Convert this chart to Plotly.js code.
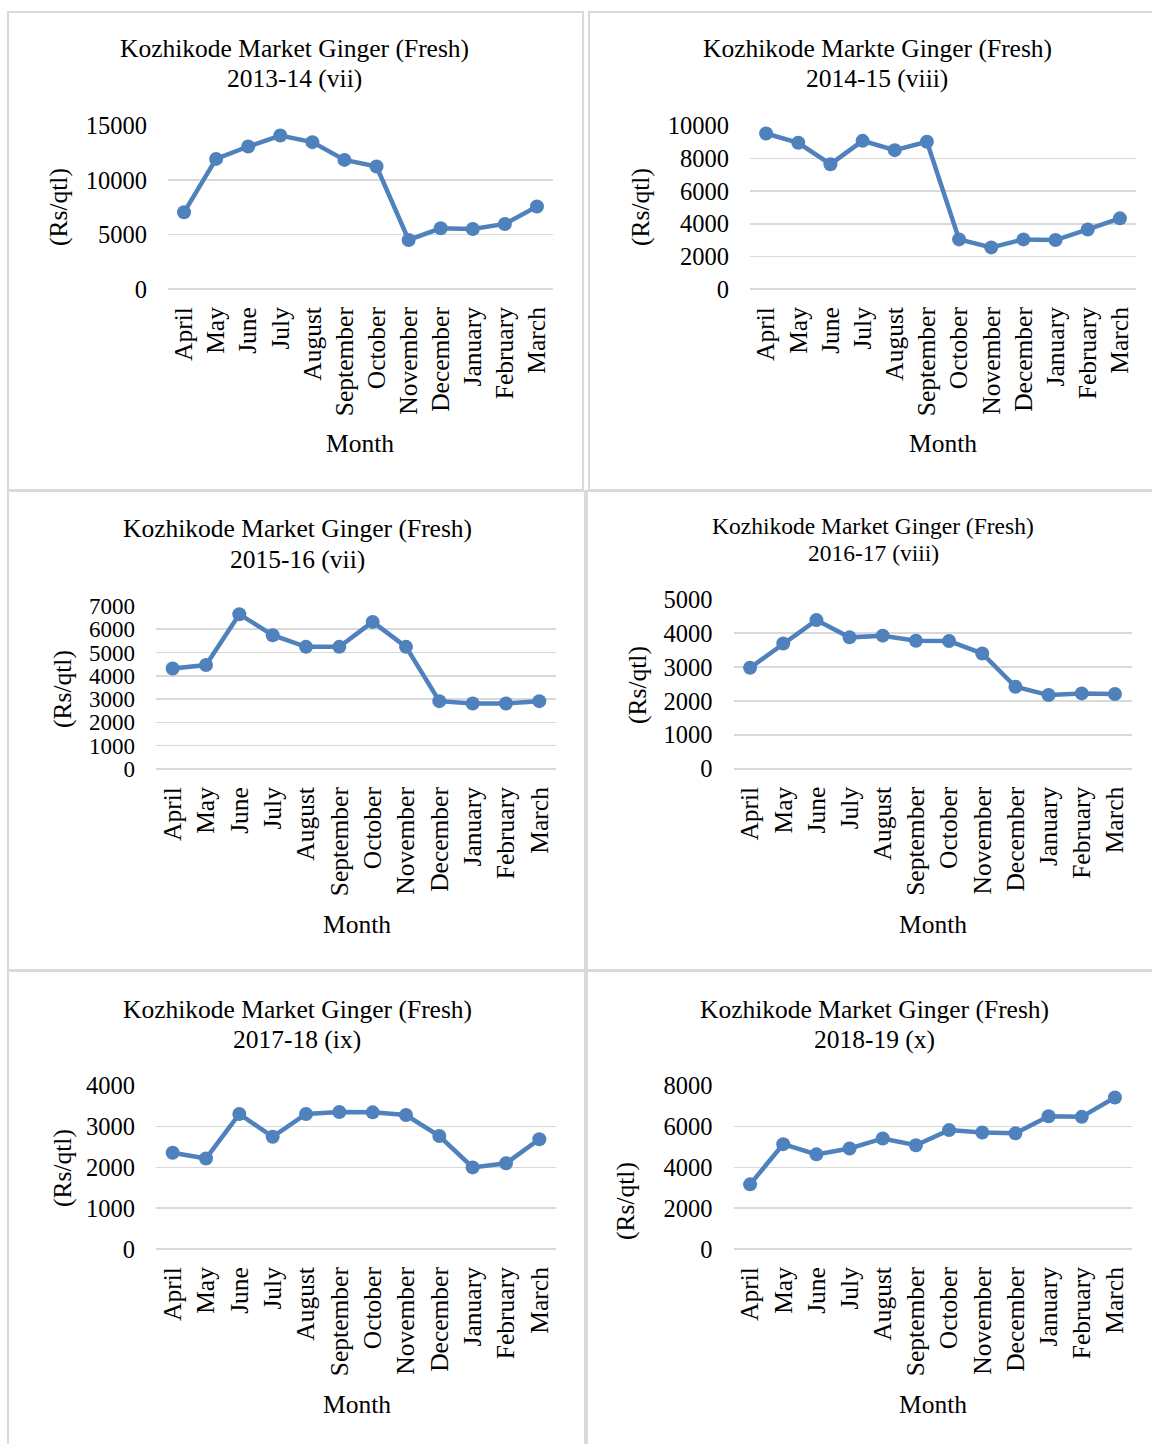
<!DOCTYPE html>
<html>
<head>
<meta charset="utf-8">
<script src="https://cdn.plot.ly/plotly-3.0.1.min.js"></script>
<style>html,body{margin:0;padding:0;background:#fff;}#chart{width:1152px;height:1444px;}</style>
</head>
<body>
<div id="chart"></div>
<script>
var months = ["April","May","June","July","August","September","October","November","December","January","February","March"];
var prices2013 = [7050, 11960, 13100, 14110, 13500, 11870, 11260, 4510, 5580, 5520, 5980, 7580];
var prices2014 = [9530, 8960, 7650, 9080, 8510, 9020, 3040, 2550, 3040, 3000, 3650, 4330];
var prices2015 = [4310, 4460, 6640, 5740, 5240, 5240, 6310, 5240, 2910, 2810, 2810, 2910];
var prices2016 = [2980, 3700, 4390, 3880, 3930, 3780, 3770, 3405, 2420, 2175, 2225, 2205];
var prices2017 = [2360, 2220, 3310, 2750, 3310, 3360, 3350, 3285, 2770, 2000, 2100, 2690];
var prices2018 = [3170, 5140, 4640, 4930, 5420, 5090, 5830, 5710, 5670, 6510, 6480, 7430];
var titleLine1 = ["Kozhikode Market Ginger (Fresh)", "Kozhikode Markte Ginger (Fresh)", "Kozhikode Market Ginger (Fresh)", "Kozhikode Market Ginger (Fresh)", "Kozhikode Market Ginger (Fresh)", "Kozhikode Market Ginger (Fresh)"];
var titleLine2 = ["2013-14 (vii)", "2014-15 (viii)", "2015-16 (vii)", "2016-17 (viii)", "2017-18 (ix)", "2018-19 (x)"];
var yMax = [15000, 10000, 7000, 5000, 4000, 8000];
var yStep = [5000, 2000, 1000, 1000, 1000, 2000];
var xTitle = "Month";
var yTitle = "(Rs/qtl)";

var series = [prices2013, prices2014, prices2015, prices2016, prices2017, prices2018];

var W = 1152, H = 1444;
function px(x){ return x / W; }
function py(y){ return 1 - y / H; }

// plot boxes in pixels [left, right, top, bottom]
var boxes = [
  [168, 553, 125.7, 289],
  [750, 1136, 125.7, 289],
  [156, 556, 605.7, 769],
  [733.5, 1131.5, 599.3, 768.7],
  [156, 556, 1085.7, 1249],
  [733.5, 1131.5, 1085.7, 1249]
];
var yTickSize = [24.5, 24.5, 23, 24.5, 24.5, 24.5];
// title centers [x, y1, y2, size]
var titlePos = [
  [294, 48, 78, 25.5],
  [877, 48, 78, 25.5],
  [297, 528, 559, 25.5],
  [873, 526, 553, 23.5],
  [297, 1009, 1039, 25.5],
  [874, 1009, 1039, 25.5]
];
var monthPos = [[360, 443],[943, 443],[357, 924],[933, 924],[357, 1404],[933, 1404]];
var yTitlePos = [[58, 207],[640, 207],[62, 689],[637, 685],[62, 1168],[625, 1201]];
var panels = [
  [8, 583, 12, 490],
  [589, 1170, 12, 490],
  [8, 585, 491, 970],
  [587, 1170, 491, 970],
  [8, 585, 971, 1460],
  [587, 1170, 971, 1460]
];

var fontFam = "Liberation Serif, Times New Roman, serif";
var blue = "#4f81bd";
var data = [];
var layout = {
  width: W, height: H,
  margin: {l:0, r:0, t:0, b:0},
  paper_bgcolor: "#fff", plot_bgcolor: "rgba(0,0,0,0)",
  showlegend: false,
  font: {family: fontFam, color: "#000"},
  annotations: [],
  shapes: []
};

for (var i = 0; i < 6; i++) {
  var sfx = i === 0 ? "" : String(i + 1);
  data.push({
    type: "scatter", mode: "lines+markers",
    x: months, y: series[i],
    xaxis: "x" + sfx, yaxis: "y" + sfx,
    line: {color: blue, width: 4.5},
    marker: {color: blue, size: 14},
    hoverinfo: "x+y"
  });
  var b = boxes[i];
  layout["xaxis" + sfx] = {
    domain: [px(b[0]), px(b[1])],
    anchor: "y" + sfx,
    type: "category",
    range: [-0.5, 11.5],
    showgrid: false, zeroline: false, showline: false,
    ticks: "",
    tickangle: -90,
    ticklabelstandoff: 12,
    tickfont: {family: fontFam, size: 25.5, color: "#000"},
    fixedrange: true
  };
  layout["yaxis" + sfx] = {
    domain: [py(b[3]), py(b[2])],
    anchor: "x" + sfx,
    range: [0, yMax[i] * 1.0008],
    dtick: yStep[i], tick0: 0,
    tickformat: "d",
    showgrid: true, gridcolor: "#d9d9d9", gridwidth: 1.6,
    zeroline: true, zerolinecolor: "#d9d9d9", zerolinewidth: 1.6,
    showline: false, ticks: "",
    ticklabelstandoff: 20,
    tickfont: {family: fontFam, size: yTickSize[i], color: "#000"},
    fixedrange: true
  };
  var t = titlePos[i];
  layout.annotations.push({
    xref: "paper", yref: "paper", x: px(t[0]), y: py(t[1]),
    text: titleLine1[i], showarrow: false, xanchor: "center", yanchor: "middle",
    font: {family: fontFam, size: t[3], color: "#000"}
  });
  layout.annotations.push({
    xref: "paper", yref: "paper", x: px(t[0]), y: py(t[2]),
    text: titleLine2[i], showarrow: false, xanchor: "center", yanchor: "middle",
    font: {family: fontFam, size: t[3], color: "#000"}
  });
  layout.annotations.push({
    xref: "paper", yref: "paper", x: px(monthPos[i][0]), y: py(monthPos[i][1]),
    text: xTitle, showarrow: false, xanchor: "center", yanchor: "middle",
    font: {family: fontFam, size: 25.5, color: "#000"}
  });
  layout.annotations.push({
    xref: "paper", yref: "paper", x: px(yTitlePos[i][0]), y: py(yTitlePos[i][1]),
    text: yTitle, showarrow: false, xanchor: "center", yanchor: "middle", textangle: -90,
    font: {family: fontFam, size: 25.5, color: "#000"}
  });
  var p = panels[i];
  layout.shapes.push({
    type: "rect", xref: "paper", yref: "paper",
    x0: px(p[0]), x1: px(p[1]), y0: py(p[3]), y1: py(p[2]),
    line: {color: "#d9d9d9", width: 2}, fillcolor: "rgba(0,0,0,0)", layer: "below"
  });
}

Plotly.newPlot("chart", data, layout, {displayModeBar: false, staticPlot: true});
</script>
</body>
</html>
